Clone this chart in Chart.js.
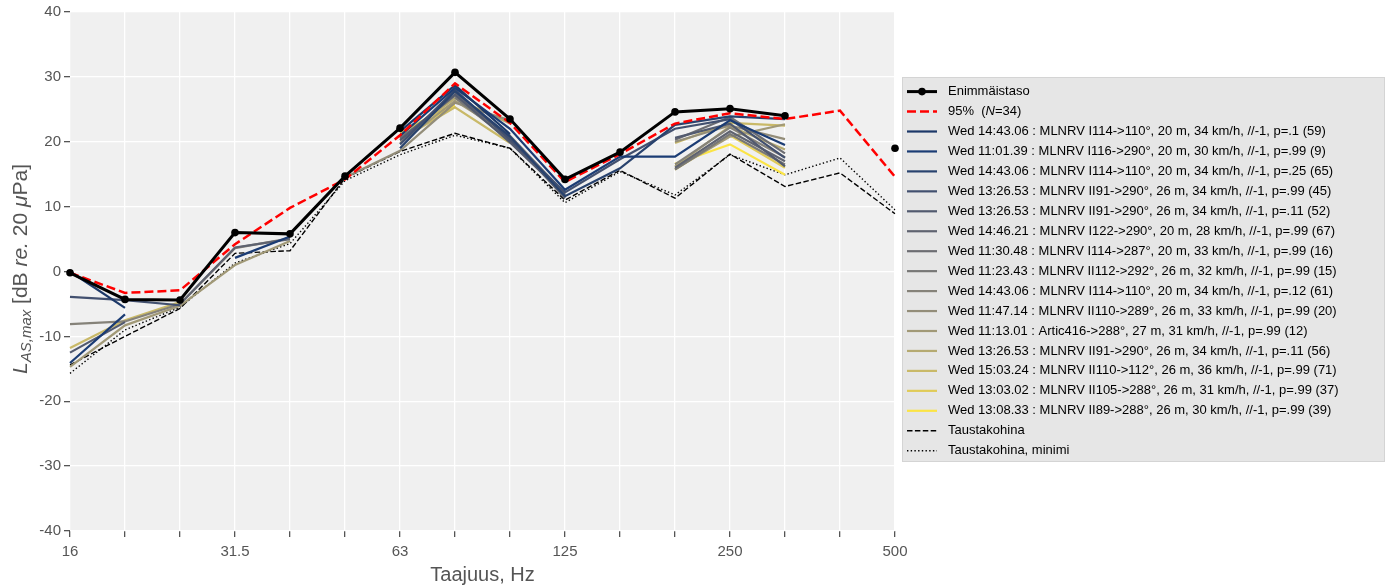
<!DOCTYPE html>
<html>
<head>
<meta charset="utf-8">
<script src="https://cdn.jsdelivr.net/npm/chart.js@4"></script>
<style>
  body { margin: 0; background: #fff; }
</style>
</head>
<body>
<canvas id="chart" width="1391" height="588"></canvas>
<script>
const bands = ['16', '20', '25', '31.5', '40', '50', '63', '80', '100', '125', '160', '200', '250', '315', '400', '500'];
const labelledBands = ['16', '31.5', '63', '125', '250', '500'];

const maxLevel      = [-0.2, -4.3, -4.4, 6.0, 5.8, 14.7, 22.1, 30.7, 23.5, 14.2, 18.4, 24.6, 25.1, 24.0, null, 19.0];
const level95       = [-0.2, -3.3, -2.9, 4.2, 9.8, 14.2, 21.0, 29.0, 22.9, 13.8, 18.1, 22.8, 24.4, 23.5, 24.8, 14.6];
const background    = [-14.4, -10.0, -5.7, 2.8, 3.2, 14.4, 18.5, 21.3, 19.0, 11.0, 15.6, 11.3, 18.1, 13.1, 15.2, 8.9];
const backgroundMin = [-15.7, -9.0, -5.5, 1.3, 4.3, 14.0, 18.0, 21.0, 19.0, 10.6, 15.4, 11.8, 18.0, 14.9, 17.5, 9.5];

const passLabels = [
  'Wed 14:43.06 : MLNRV I114->110°, 20 m, 34 km/h, //-1, p=.1 (59)',
  'Wed 11:01.39 : MLNRV I116->290°, 20 m, 30 km/h, //-1, p=.99 (9)',
  'Wed 14:43.06 : MLNRV I114->110°, 20 m, 34 km/h, //-1, p=.25 (65)',
  'Wed 13:26.53 : MLNRV II91->290°, 26 m, 34 km/h, //-1, p=.99 (45)',
  'Wed 13:26.53 : MLNRV II91->290°, 26 m, 34 km/h, //-1, p=.11 (52)',
  'Wed 14:46.21 : MLNRV I122->290°, 20 m, 28 km/h, //-1, p=.99 (67)',
  'Wed 11:30.48 : MLNRV I114->287°, 20 m, 33 km/h, //-1, p=.99 (16)',
  'Wed 11:23.43 : MLNRV II112->292°, 26 m, 32 km/h, //-1, p=.99 (15)',
  'Wed 14:43.06 : MLNRV I114->110°, 20 m, 34 km/h, //-1, p=.12 (61)',
  'Wed 11:47.14 : MLNRV II110->289°, 26 m, 33 km/h, //-1, p=.99 (20)',
  'Wed 11:13.01 : Artic416->288°, 27 m, 31 km/h, //-1, p=.99 (12)',
  'Wed 13:26.53 : MLNRV II91->290°, 26 m, 34 km/h, //-1, p=.11 (56)',
  'Wed 15:03.24 : MLNRV II110->112°, 26 m, 36 km/h, //-1, p=.99 (71)',
  'Wed 13:03.02 : MLNRV II105->288°, 26 m, 31 km/h, //-1, p=.99 (37)',
  'Wed 13:08.33 : MLNRV II89->288°, 26 m, 30 km/h, //-1, p=.99 (39)'
];

const n = null;
const passLevels = [
  [0.0, -5.6, n, n, n, n, 21.6, 28.7, 21.2, n, n, n, n, n, n, n],
  [-14.1, -6.6, n, 2.1, 5.4, n, 20.9, 28.3, 22.0, 12.6, 17.7, 17.7, 23.3, 19.5, n, n],
  [n, n, n, n, n, n, 19.0, 27.8, 20.8, 11.6, 15.9, 22.6, 23.9, 23.5, n, n],
  [-3.9, -4.4, -5.2, n, n, n, 19.6, 28.0, 20.3, 12.2, 17.3, 22.0, 23.5, 17.5, n, n],
  [-12.5, -7.8, n, n, n, n, 20.2, 27.3, 19.9, 11.8, n, 20.6, 22.8, 16.2, n, n],
  [n, n, -5.0, 3.7, 5.0, n, n, 27.6, 20.6, 11.3, n, 16.0, 21.6, 17.0, n, n],
  [n, n, n, n, n, n, 20.5, 27.1, 20.9, 12.0, n, 20.3, 23.8, 18.2, n, n],
  [n, n, n, n, n, n, n, 26.8, 20.2, 11.7, n, 15.7, 21.2, 16.5, n, n],
  [-8.1, -7.7, -5.0, 3.6, 5.1, n, n, 26.5, n, n, n, 16.5, 22.2, 17.6, n, n],
  [n, n, n, n, n, 14.5, 18.6, 26.0, 23.3, n, n, 20.0, 22.5, 20.4, n, n],
  [-14.7, -8.3, -5.3, 1.0, 4.7, n, 19.8, 26.3, 21.0, n, n, 15.8, 20.8, 22.7, n, n],
  [n, n, n, n, n, n, 20.6, 26.7, 22.8, n, n, 16.2, 22.4, 18.8, n, n],
  [-11.8, -7.5, -4.7, n, n, n, 20.3, 25.3, 19.8, n, n, 19.8, 22.9, 22.5, n, n],
  [n, n, n, n, n, n, 21.3, 26.0, n, n, n, 15.7, 21.0, 16.0, n, n],
  [n, n, n, n, n, n, 20.8, 25.6, n, n, n, 16.6, 19.6, 14.9, n, n]
];

// navy -> grey -> yellow, one colour per pass-by
const passColors = [
  '#1c3868', '#1b3c74', '#28426e', '#42506f', '#525a6f', '#5f6370', '#6c6d72', '#787876',
  '#858279', '#938d79', '#a19977', '#b5aa71', '#c9b968', '#e0cb58', '#fbe445'
];

const FONT = '"Liberation Sans", Arial, sans-serif';
const GREY = '#555555';

const datasets = [
  {
    label: 'Enimmäistaso', data: maxLevel, borderColor: '#000', backgroundColor: '#000',
    borderWidth: 3, pointRadius: 3.8, pointBorderWidth: 0, clip: false
  },
  {
    label: '95%  (N=34)', data: level95, borderColor: '#ff0000',
    borderWidth: 2.5, borderDash: [9, 4], pointRadius: 0
  }
];
passLevels.forEach((vals, i) => {
  datasets.push({
    label: passLabels[i], data: vals, borderColor: passColors[i],
    borderWidth: 2.2, pointRadius: 0
  });
});
datasets.push(
  { label: 'Taustakohina', data: background, borderColor: '#000', borderWidth: 1.4, borderDash: [5.5, 2.4], pointRadius: 0 },
  { label: 'Taustakohina, minimi', data: backgroundMin, borderColor: '#000', borderWidth: 1.4, borderDash: [1.4, 2.3], pointRadius: 0 }
);
datasets.forEach(d => { d.tension = 0; d.spanGaps = false; d.fill = false; });

// grey plot panel behind the white grid
const panel = {
  id: 'panel',
  beforeDraw(chart) {
    const { ctx, chartArea: a } = chart;
    ctx.save();
    ctx.fillStyle = '#f0f0f0';
    ctx.fillRect(a.left, a.top, a.right - a.left, a.bottom - a.top);
    ctx.restore();
  }
};

function drawParts(ctx, parts, x, y) {
  parts.forEach(p => {
    ctx.font = p.font;
    ctx.fillText(p.text, x, y + (p.dy || 0));
    x += ctx.measureText(p.text).width;
  });
  return x;
}
function partsWidth(ctx, parts) {
  return parts.reduce((w, p) => { ctx.font = p.font; return w + ctx.measureText(p.text).width; }, 0);
}

const axisTitles = {
  id: 'axisTitles',
  afterDraw(chart) {
    const { ctx, chartArea: a } = chart;
    ctx.save();
    ctx.fillStyle = GREY;
    ctx.textBaseline = 'middle';
    ctx.textAlign = 'center';
    ctx.font = `20px ${FONT}`;
    ctx.fillText('Taajuus, Hz', (a.left + a.right) / 2, 575);

    ctx.textAlign = 'left';
    const reg = `21px ${FONT}`, it = `italic 21px ${FONT}`, sub = `italic 15px ${FONT}`;
    const parts = [
      { text: 'L', font: it },
      { text: 'AS,max', font: sub, dy: 6 },
      { text: ' [dB ', font: reg },
      { text: 're.', font: it },
      { text: ' 20 ', font: reg },
      { text: 'μ', font: it },
      { text: 'Pa]', font: reg }
    ];
    const w = partsWidth(ctx, parts);
    ctx.translate(21, 269);
    ctx.rotate(-Math.PI / 2);
    drawParts(ctx, parts, -w / 2, 0);
    ctx.restore();
  }
};

const legendBox = {
  id: 'legendBox',
  afterDraw(chart) {
    const { ctx } = chart;
    const sets = chart.data.datasets;
    const x0 = 902, y0 = 77, w = 483, h = 385, rowH = 19.95, firstRow = 91.6;
    ctx.save();
    ctx.fillStyle = '#e6e6e6';
    ctx.strokeStyle = '#d4d4d4';
    ctx.lineWidth = 1;
    ctx.fillRect(x0, y0, w, h);
    ctx.strokeRect(x0 + 0.5, y0 + 0.5, w - 1, h - 1);
    sets.forEach((d, i) => {
      const y = firstRow + i * rowH;
      ctx.strokeStyle = d.borderColor;
      ctx.lineWidth = d.borderWidth;
      ctx.setLineDash(d.borderDash || []);
      ctx.beginPath();
      ctx.moveTo(907, y);
      ctx.lineTo(937, y);
      ctx.stroke();
      ctx.setLineDash([]);
      if (d.pointRadius) {
        ctx.fillStyle = d.backgroundColor;
        ctx.beginPath();
        ctx.arc(922, y, d.pointRadius, 0, Math.PI * 2);
        ctx.fill();
      }
      ctx.fillStyle = '#000';
      ctx.textBaseline = 'middle';
      const reg = `13px ${FONT}`;
      if (d.label.includes('(N=')) {
        const [a, b] = d.label.split('N=');
        drawParts(ctx, [{ text: a, font: reg }, { text: 'N', font: `italic 13px ${FONT}` }, { text: '=' + b, font: reg }], 948, y);
      } else {
        ctx.font = reg;
        ctx.fillText(d.label, 948, y);
      }
    });
    ctx.restore();
  }
};

const tickFont = { family: FONT, size: 15 };

new Chart(document.getElementById('chart'), {
  type: 'line',
  data: { labels: bands, datasets },
  options: {
    responsive: false,
    devicePixelRatio: 1,
    animation: false,
    layout: { padding: { top: 12, right: 496, bottom: 0, left: 0 } },
    plugins: { legend: { display: false }, tooltip: { enabled: false } },
    scales: {
      x: {
        offset: false,
        grid: { color: '#ffffff', lineWidth: 1.3, tickColor: GREY, tickLength: 6 },
        border: { display: false },
        ticks: {
          autoSkip: false, maxRotation: 0, padding: 6, color: GREY, font: tickFont,
          callback: (v, i) => labelledBands.includes(bands[i]) ? bands[i] : ''
        },
        afterFit: s => { s.height = 57; }
      },
      y: {
        min: -40, max: 40,
        grid: { color: '#ffffff', lineWidth: 1.3, tickColor: GREY, tickLength: 6 },
        border: { display: false },
        ticks: { stepSize: 10, padding: 3, color: GREY, font: tickFont },
        afterFit: s => { s.width = 70; }
      }
    }
  },
  plugins: [panel, axisTitles, legendBox]
});
</script>
</body>
</html>
